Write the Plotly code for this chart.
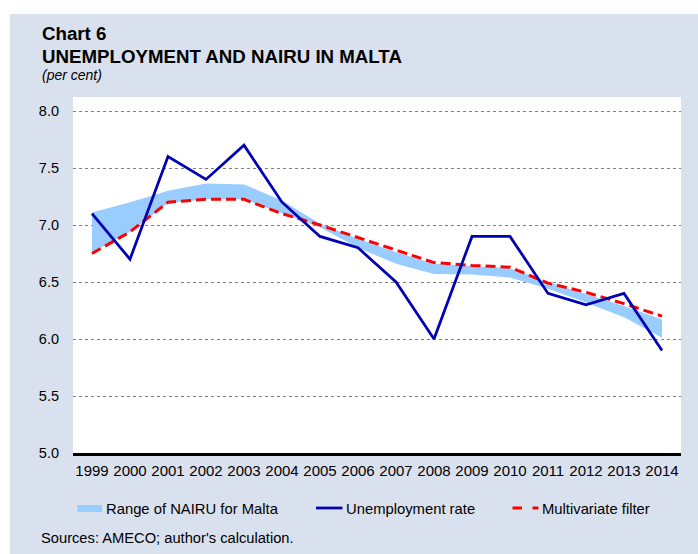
import plotly.graph_objects as go

years = ["1999", "2000", "2001", "2002", "2003", "2004", "2005", "2006",
         "2007", "2008", "2009", "2010", "2011", "2012", "2013", "2014"]
unemployment = [7.1, 6.7, 7.6, 7.4, 7.7, 7.2, 6.9, 6.8, 6.5, 6.0, 6.9, 6.9, 6.4, 6.3, 6.4, 5.9]
multivariate = [6.75, 6.94, 7.20, 7.225, 7.225, 7.10, 7.00, 6.89, 6.78, 6.67, 6.645, 6.63, 6.49, 6.41, 6.31, 6.20]
nairu_upper = [7.11, 7.20, 7.30, 7.365, 7.355, 7.215, 7.01, 6.88, 6.76, 6.66, 6.64, 6.62, 6.50, 6.395, 6.29, 6.17]
nairu_lower = [6.76, 6.94, 7.19, 7.225, 7.225, 7.10, 6.98, 6.80, 6.66, 6.57, 6.565, 6.54, 6.44, 6.32, 6.19, 6.01]
y_ticks = [5.0, 5.5, 6.0, 6.5, 7.0, 7.5, 8.0]

W, H = 698, 554
L, R, T, B = 73, 17, 97, 101
PW, PH = W - L - R, H - T - B

BG = "#dae1ee"
BAND = "#99ccff"
BLUE = "#0000b4"
RED = "#ff0000"
FONT = "Liberation Sans, Arial, sans-serif"


def px(x):
    return (x - L) / PW


def py(y):
    return (H - B - y) / PH


fig = go.Figure()
fig.add_trace(go.Scatter(x=years, y=nairu_lower, mode="lines", line=dict(width=0, color=BAND),
                         showlegend=False, hoverinfo="skip"))
fig.add_trace(go.Scatter(x=years, y=nairu_upper, mode="lines", line=dict(width=0, color=BAND),
                         fill="tonexty", fillcolor=BAND, showlegend=False, name="Range of NAIRU for Malta"))
fig.add_trace(go.Scatter(x=years, y=multivariate, mode="lines",
                         line=dict(width=3, color=RED, dash="10px,5px"),
                         showlegend=False, name="Multivariate filter"))
fig.add_trace(go.Scatter(x=years, y=unemployment, mode="lines",
                         line=dict(width=2.75, color=BLUE),
                         showlegend=False, name="Unemployment rate"))

shapes = [
    # white strips outside the blue-grey panel
    dict(type="rect", xref="paper", yref="paper", x0=px(0), x1=px(W), y0=py(0), y1=py(14),
         fillcolor="white", line=dict(width=0), layer="above"),
    dict(type="rect", xref="paper", yref="paper", x0=px(0), x1=px(10), y0=py(0), y1=py(H),
         fillcolor="white", line=dict(width=0), layer="above"),
    # legend swatches
    dict(type="rect", xref="paper", yref="paper", x0=px(77.5), x1=px(102), y0=py(505), y1=py(512),
         fillcolor=BAND, line=dict(width=0)),
    dict(type="line", xref="paper", yref="paper", x0=px(316), x1=px(342.5), y0=py(508), y1=py(508),
         line=dict(color=BLUE, width=2.75)),
    dict(type="line", xref="paper", yref="paper", x0=px(512.5), x1=px(522), y0=py(508), y1=py(508),
         line=dict(color=RED, width=3)),
    dict(type="line", xref="paper", yref="paper", x0=px(532.5), x1=px(538.5), y0=py(508), y1=py(508),
         line=dict(color=RED, width=3)),
]

annotations = [
    dict(text="<b>Chart 6</b>", x=px(40), y=py(33), xanchor="left", yanchor="middle",
         font=dict(size=18.7, color="black", family=FONT)),
    dict(text="<b>UNEMPLOYMENT AND NAIRU IN MALTA</b>", x=px(40), y=py(56), xanchor="left", yanchor="middle",
         font=dict(size=18.7, color="black", family=FONT)),
    dict(text="<i>(per cent)</i>", x=px(40), y=py(74.5), xanchor="left", yanchor="middle",
         font=dict(size=14, color="black", family=FONT)),
    dict(text="Range of NAIRU for Malta", x=px(104), y=py(508.5), xanchor="left", yanchor="middle",
         font=dict(size=14.8, color="black", family=FONT)),
    dict(text="Unemployment rate", x=px(343.5), y=py(508.5), xanchor="left", yanchor="middle",
         font=dict(size=14.8, color="black", family=FONT)),
    dict(text="Multivariate filter", x=px(540), y=py(508.5), xanchor="left", yanchor="middle",
         font=dict(size=14.8, color="black", family=FONT)),
    dict(text="Sources: AMECO; author's calculation.", x=px(38.5), y=py(537.5), xanchor="left", yanchor="middle",
         font=dict(size=14.7, color="black", family=FONT)),
]
for a in annotations:
    a.update(xref="paper", yref="paper", showarrow=False)

fig.update_layout(
    width=W, height=H,
    margin=dict(l=L, r=R, t=T, b=B, pad=0),
    paper_bgcolor=BG, plot_bgcolor="white",
    font=dict(family=FONT, color="black", size=14.5),
    showlegend=False,
    shapes=shapes,
    annotations=annotations,
    xaxis=dict(type="category", range=[-0.5, 15.5], showgrid=False, zeroline=False,
               showline=True, linecolor="black", linewidth=2.5,
               ticks="", tickfont=dict(size=15, family=FONT, color="black"),
               ticklabelstandoff=2, fixedrange=True),
    yaxis=dict(range=[5.0, 5.0 + PH / 114.0], tickvals=y_ticks, ticktext=[f"{v:.1f}" for v in y_ticks],
               showgrid=True, gridcolor="#7f7f7f", griddash="dot", gridwidth=1,
               zeroline=False, showline=False, ticks="",
               tickfont=dict(size=14.5, family=FONT, color="black"),
               ticklabelstandoff=13, fixedrange=True),
)

fig.write_html("out.html", config={"displayModeBar": False},
               post_script="document.body.style.margin='0';document.body.style.padding='0';")
